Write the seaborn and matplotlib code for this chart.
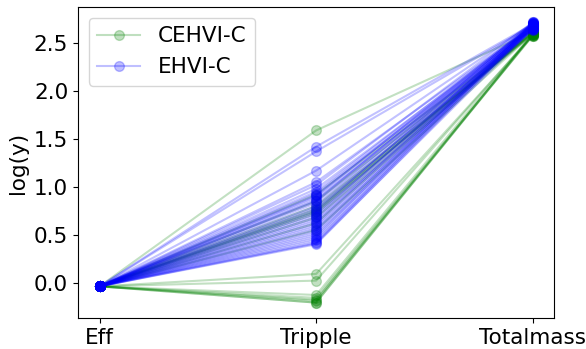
import matplotlib
matplotlib.use("Agg")
import matplotlib.pyplot as plt
from matplotlib.lines import Line2D
import seaborn as sns
import pandas as pd

categories = ["Eff", "Tripple", "Totalmass"]

green_tripple = [1.59, 0.92, 0.85, 0.80, 0.77, 0.75, 0.74, 0.72, 0.68, 0.62, 0.55,
                 0.09, 0.02, -0.13, -0.16, -0.18, -0.19, -0.21, -0.21]
green_total = [2.62, 2.61, 2.62, 2.60, 2.61, 2.60, 2.62, 2.61, 2.60, 2.63, 2.60,
               2.58, 2.59, 2.60, 2.58, 2.59, 2.58, 2.59, 2.60]
green_eff = [-0.04] * len(green_tripple)

blue_tripple = [1.42, 1.37, 1.17, 1.05, 1.02, 0.98, 0.95, 0.93, 0.91, 0.90, 0.88, 0.86,
                0.85, 0.83, 0.80, 0.78, 0.76, 0.74, 0.72, 0.70, 0.68, 0.66, 0.64, 0.62,
                0.60, 0.58, 0.56, 0.54, 0.52, 0.50, 0.48, 0.46, 0.44, 0.42, 0.41, 0.40]
blue_total = [2.70, 2.69, 2.71, 2.68, 2.72, 2.67, 2.70, 2.66, 2.69, 2.71, 2.65, 2.68,
              2.70, 2.66, 2.69, 2.64, 2.67, 2.72, 2.65, 2.68, 2.70, 2.66, 2.64, 2.71,
              2.69, 2.67, 2.65, 2.70, 2.68, 2.66, 2.72, 2.69, 2.67, 2.71, 2.65, 2.68]
blue_eff = [-0.04] * len(blue_tripple)

labels = ["CEHVI-C", "EHVI-C"]
colors = {"CEHVI-C": "green", "EHVI-C": "blue"}

rows = []
for name, e, t, m in [("CEHVI-C", green_eff, green_tripple, green_total),
                      ("EHVI-C", blue_eff, blue_tripple, blue_total)]:
    for i, vals in enumerate(zip(e, t, m)):
        for c, v in zip(categories, vals):
            rows.append({"method": name, "run": f"{name}-{i}", "x": c, "y": v})
df = pd.DataFrame(rows)
df["xi"] = df["x"].map({c: i for i, c in enumerate(categories)})

fig, ax = plt.subplots(figsize=(5.86, 3.49), dpi=100)
fig.subplots_adjust(left=0.133, right=0.946, top=0.98, bottom=0.089)

sns.lineplot(data=df, x="xi", y="y", hue="method", units="run", estimator=None,
             palette=colors, marker="o", markersize=7, markeredgewidth=1,
             alpha=0.24, linewidth=1.5, legend=False, ax=ax, sort=False)
for ln in ax.lines:
    ln.set_markeredgecolor(ln.get_color())

ax.set_xticks(range(len(categories)))
ax.set_xticklabels(categories)
ax.set_xlabel("")
ax.set_ylabel("log(y)", fontsize=15.5)
ax.tick_params(labelsize=15.5)
ax.set_ylim(-0.37, 2.88)

handles = [Line2D([0], [0], color=colors[l], marker="o", markersize=7, alpha=0.25, linewidth=1.5)
           for l in labels]
ax.legend(handles, labels, loc="upper left", fontsize=15.5)

fig.savefig("out.png", dpi=100)
